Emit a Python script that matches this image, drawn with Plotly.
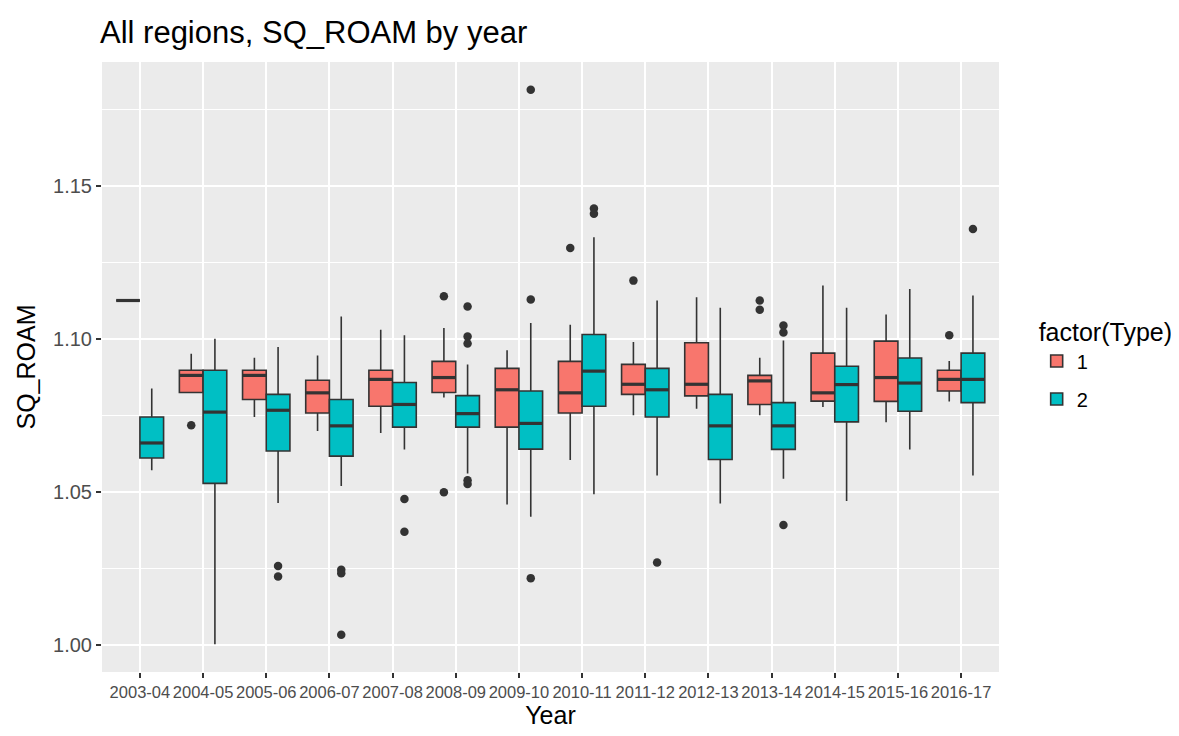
import plotly.graph_objects as go
import numpy as np

years = ["2003-04", "2004-05", "2005-06", "2006-07", "2007-08", "2008-09", "2009-10",
         "2010-11", "2011-12", "2012-13", "2013-14", "2014-15", "2015-16", "2016-17"]

# Type 1 box statistics
t1_low = [1.1126, 1.0825, 1.0745, 1.0699, 1.0693, 1.0809, 1.0459, 1.0604, 1.0751, 1.0772, 1.0751, 1.0778, 1.0728, 1.0796]
t1_q1 = [1.1126, 1.0825, 1.0802, 1.0758, 1.0780, 1.0825, 1.0712, 1.0758, 1.0819, 1.0814, 1.0786, 1.0797, 1.0796, 1.0830]
t1_med = [1.1126, 1.0881, 1.0881, 1.0824, 1.0868, 1.0874, 1.0834, 1.0824, 1.0852, 1.0852, 1.0863, 1.0824, 1.0874, 1.0868]
t1_q3 = [1.1126, 1.0898, 1.0898, 1.0865, 1.0898, 1.0927, 1.0904, 1.0927, 1.0917, 1.0988, 1.0881, 1.0954, 1.0993, 1.0898]
t1_high = [1.1126, 1.0952, 1.0939, 1.0946, 1.1030, 1.1036, 1.0963, 1.1047, 1.0990, 1.1137, 1.0939, 1.1175, 1.1080, 1.0928]

# Type 2 box statistics
t2_low = [1.0571, 1.0002, 1.0464, 1.0519, 1.0639, 1.0560, 1.0419, 1.0492, 1.0554, 1.0462, 1.0543, 1.0470, 1.0639, 1.0554]
t2_q1 = [1.0611, 1.0528, 1.0634, 1.0617, 1.0712, 1.0712, 1.0640, 1.0780, 1.0745, 1.0606, 1.0639, 1.0729, 1.0764, 1.0792]
t2_med = [1.0660, 1.0761, 1.0767, 1.0716, 1.0786, 1.0756, 1.0724, 1.0895, 1.0834, 1.0716, 1.0716, 1.0851, 1.0856, 1.0868]
t2_q3 = [1.0745, 1.0898, 1.0819, 1.0802, 1.0858, 1.0815, 1.0830, 1.1015, 1.0904, 1.0819, 1.0792, 1.0911, 1.0938, 1.0954]
t2_high = [1.0838, 1.1001, 1.0974, 1.1074, 1.1012, 1.0917, 1.1052, 1.1333, 1.1126, 1.1102, 1.0995, 1.1102, 1.1164, 1.1142]

# Outliers
t1_out_year = ["2004-05", "2008-09", "2008-09", "2010-11", "2011-12", "2013-14", "2013-14", "2016-17"]
t1_out_val = [1.0718, 1.1140, 1.0499, 1.1298, 1.1191, 1.1126, 1.1096, 1.1012]
t2_out_year = ["2005-06", "2005-06", "2006-07", "2006-07", "2006-07", "2007-08", "2007-08",
               "2008-09", "2008-09", "2008-09", "2008-09", "2008-09",
               "2009-10", "2009-10", "2009-10", "2010-11", "2010-11", "2011-12",
               "2013-14", "2013-14", "2013-14", "2016-17"]
t2_out_val = [1.0258, 1.0223, 1.0245, 1.0234, 1.0033, 1.0477, 1.0370,
              1.1106, 1.1008, 1.0985, 1.0538, 1.0526,
              1.1815, 1.1129, 1.0218, 1.1427, 1.1410, 1.0269,
              1.1044, 1.1021, 1.0392, 1.1360]

fill1 = "#F8766D"
fill2 = "#00BFC4"
edge = "#333333"
dodge = 0.1875
bw = 0.375

idx = {y: i for i, y in enumerate(years)}
base = np.arange(len(years))

fig = go.Figure()

def add_type(name, offset, low, q1, med, q3, high, out_year, out_val, fill):
    pos = base + offset
    fig.add_trace(go.Box(
        x=pos, lowerfence=low, q1=q1, median=med, q3=q3, upperfence=high,
        width=bw, fillcolor=fill, line=dict(color=edge, width=1.6),
        whiskerwidth=0, boxpoints=False, name=name, legendgroup=name,
        hoverinfo="skip"))
    mx, my = [], []
    for p, m in zip(pos, med):
        mx += [p - bw / 2, p + bw / 2, None]
        my += [m, m, None]
    fig.add_trace(go.Scatter(x=mx, y=my, mode="lines", line=dict(color=edge, width=3.2),
                             showlegend=False, hoverinfo="skip"))
    ox = [idx[y] + offset for y in out_year]
    fig.add_trace(go.Scatter(x=ox, y=out_val, mode="markers",
                             marker=dict(color=edge, size=8.5),
                             showlegend=False, hoverinfo="skip"))

add_type("1", -dodge, t1_low, t1_q1, t1_med, t1_q3, t1_high, t1_out_year, t1_out_val, fill1)
add_type("2", dodge, t2_low, t2_q1, t2_med, t2_q3, t2_high, t2_out_year, t2_out_val, fill2)

font_family = "Liberation Sans, Arial, sans-serif"
W, H = 1171, 728  # page body has an 8px margin

fig.update_layout(
    width=W, height=H,
    margin=dict(l=94, r=180, t=54, b=64, autoexpand=False),
    paper_bgcolor="white", plot_bgcolor="#EBEBEB",
    font=dict(family=font_family, color="#4D4D4D", size=20),
    boxmode="overlay",
    title=dict(text="All regions, SQ_ROAM by year", x=92 / W, xref="container", xanchor="left",
               y=1 - 24 / H, yref="container", yanchor="middle",
               font=dict(size=31, color="black", family=font_family)),
    legend=dict(title=dict(text="factor(Type)", font=dict(size=25, color="black")),
                font=dict(size=20, color="black"),
                x=1.042, xanchor="left", y=0.505, yanchor="middle",
                bgcolor="white", tracegroupgap=9),
    showlegend=True,
)

fig.update_xaxes(
    range=[-0.6, len(years) - 0.4], tickmode="array", tickvals=list(base), ticktext=years,
    tickangle=0, showgrid=True, gridcolor="white", gridwidth=2, zeroline=False,
    ticks="outside", ticklen=5, tickwidth=1.5, tickcolor="#333333",
    tickfont=dict(size=16.5, color="#4D4D4D"), automargin=False,
    title=dict(text="Year", font=dict(size=25, color="black"), standoff=6),
    showline=False,
)
fig.update_yaxes(
    range=[0.9911, 1.1906], tickmode="array", tickvals=[1.00, 1.05, 1.10, 1.15],
    ticktext=["1.00", "1.05", "1.10", "1.15"],
    showgrid=True, gridcolor="white", gridwidth=2, zeroline=False,
    ticks="outside", ticklen=5, tickwidth=1.5, tickcolor="#333333",
    tickfont=dict(size=20, color="#4D4D4D"), automargin=False,
    minor=dict(tickvals=[1.025, 1.075, 1.125, 1.175], showgrid=True, gridcolor="white",
               gridwidth=1, ticks=""),
    title=dict(text="SQ_ROAM", font=dict(size=25, color="black"), standoff=10),
    showline=False,
)

fig.write_html("out.html")
